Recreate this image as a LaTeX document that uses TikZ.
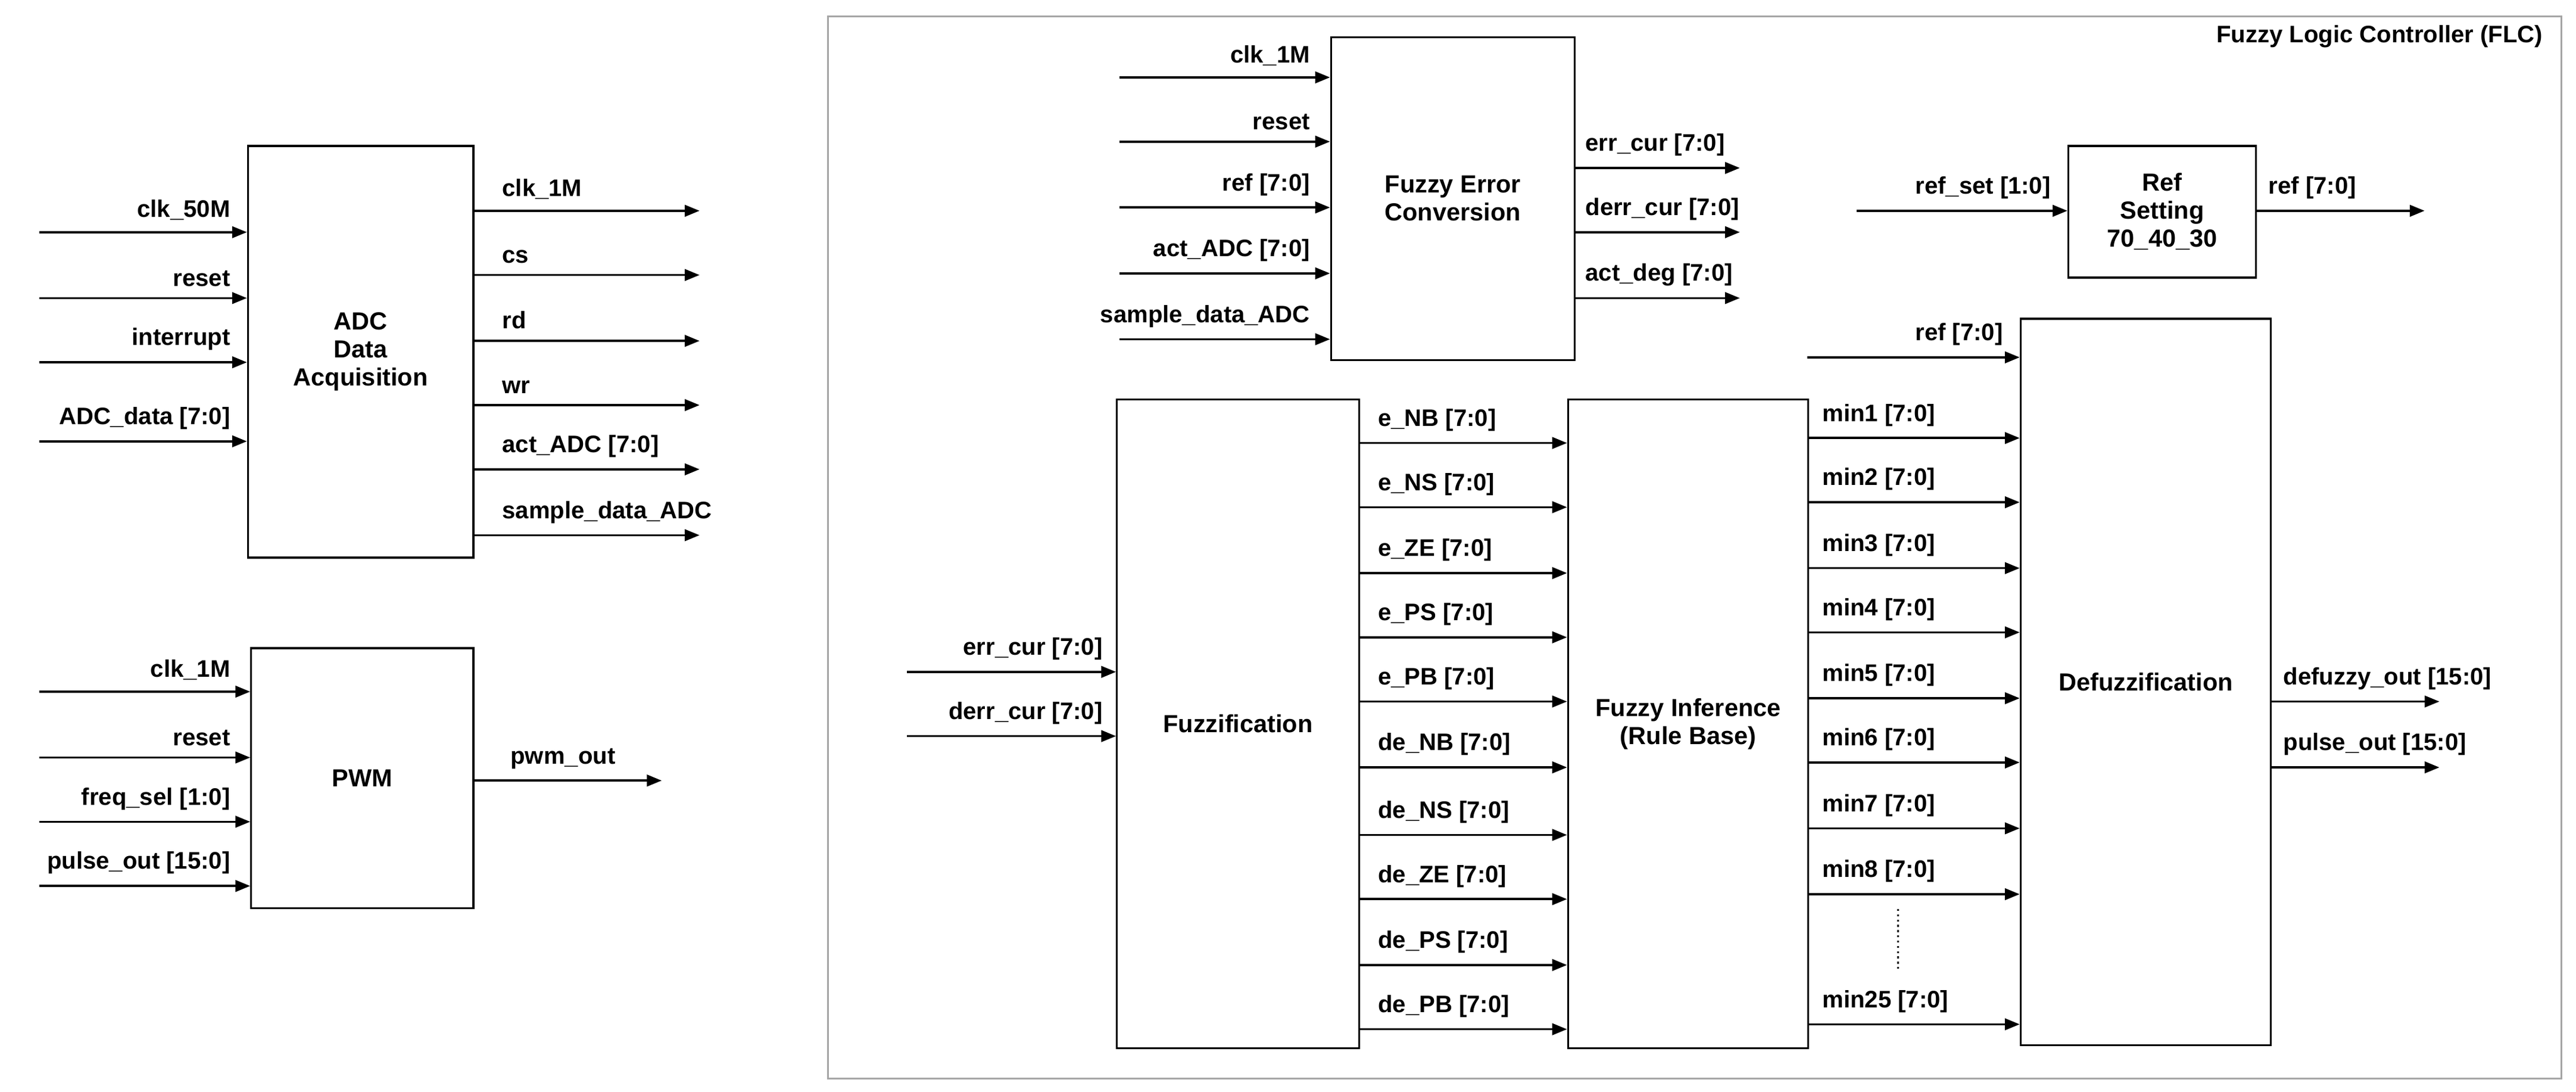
\documentclass[tikz,border=0pt]{standalone}
\usepackage{fontspec}
\setmainfont{Liberation Sans}
\usetikzlibrary{arrows.meta}
\begin{document}
\begin{tikzpicture}[x=1pt,y=-1pt,
 box/.style={draw,line width=1.2pt,font=\fontsize{15}{17}\selectfont\bfseries,align=center},
 sig/.style={line width=1.3pt,-{Triangle[length=9pt,width=7pt]}},
 lab/.style={font=\fontsize{14.5}{16}\selectfont\bfseries,inner sep=0pt}]
\useasboundingbox (0,0) rectangle (1565,663);
\draw[gray!70,line width=1.2pt] (503,10) rectangle (1556,655);
\node[lab,anchor=north east] (flc) at (1545,15) {Fuzzy Logic Controller (FLC)};
% ADC
\node[box,minimum width=137pt,minimum height=250pt,anchor=north west] (adc) at (150,88) {ADC\\Data\\Acquisition};
\foreach \n/\y/\t in {a1/141/clk\_50M,a2/181/reset,a3/220/interrupt,a4/268/ADC\_data [7:0]}{
 \coordinate (\n s) at (24,\y); \coordinate (\n e) at (150,\y);
 \draw[sig] (\n s) -- (\n e);
 \node[lab,anchor=south east] at (140,\y-7) {\t};}
\foreach \n/\y/\t in {b1/128/clk\_1M,b2/167/cs,b3/207/rd,b4/246/wr,b5/285/act\_ADC [7:0],b6/325/sample\_data\_ADC}{
 \coordinate (\n s) at (287,\y); \coordinate (\n e) at (425,\y);
 \draw[sig] (\n s) -- (\n e);
 \node[lab,anchor=south west] at (305,\y-7) {\t};}
% PWM
\node[box,minimum width=135pt,minimum height=158pt,anchor=north west] (pwm) at (152,393) {PWM};
\foreach \n/\y/\t in {p1/420/clk\_1M,p2/460/reset,p3/499/freq\_sel [1:0],p4/538/pulse\_out [15:0]}{
 \coordinate (\n s) at (24,\y); \coordinate (\n e) at (152,\y);
 \draw[sig] (\n s) -- (\n e);
 \node[lab,anchor=south east] at (140,\y-7) {\t};}
\coordinate (pwo) at (402,474);
\draw[sig] (287,474) -- (pwo);
\node[lab,anchor=south west] at (310,467) {pwm\_out};
% Fuzzy error conversion
\node[box,minimum width=148pt,minimum height=196pt,anchor=north west] (fec) at (808,22) {Fuzzy Error\\Conversion};
\foreach \n/\y/\t in {c1/47/clk\_1M,c2/86/reset,c3/126/ref [7:0],c4/166/act\_ADC [7:0],c5/206/sample\_data\_ADC}{
 \coordinate (\n s) at (680,\y); \coordinate (\n e) at (808,\y);
 \draw[sig] (\n s) -- (\n e);
 \node[lab,anchor=south east] at (796,\y-7) {\t};}
\foreach \n/\y/\t in {d1/102/err\_cur [7:0],d2/141/derr\_cur [7:0],d3/181/act\_deg [7:0]}{
 \coordinate (\n s) at (956,\y); \coordinate (\n e) at (1057,\y);
 \draw[sig] (\n s) -- (\n e);
 \node[lab,anchor=south west] at (963,\y-7) {\t};}
% Ref setting
\node[box,minimum width=114pt,minimum height=80pt,anchor=north west] (rs) at (1256,88) {Ref\\Setting\\70\_40\_30};
\coordinate (rss) at (1128,128); \coordinate (rso) at (1473,128);
\draw[sig] (rss) -- (rs.west|-rss);
\node[lab,anchor=south east] at (1246,121) {ref\_set [1:0]};
\draw[sig] (rs.east|-rso) -- (rso);
\node[lab,anchor=south west] at (1378,121) {ref [7:0]};
% Fuzzification
\node[box,minimum width=147pt,minimum height=394pt,anchor=north west] (fz) at (678,242) {Fuzzification};
\node[box,minimum width=146pt,minimum height=394pt,anchor=north west] (fi) at (952,242) {Fuzzy Inference\\(Rule Base)};
\node[box,minimum width=152pt,minimum height=441pt,anchor=north west] (df) at (1227,193) {Defuzzification};
\foreach \n/\y/\t in {f1/408/err\_cur [7:0],f2/447/derr\_cur [7:0]}{
 \coordinate (\n s) at (551,\y);
 \draw[sig] (\n s) -- (fz.west|-\n s);
 \node[lab,anchor=south east] at (670,\y-7) {\t};}
\foreach \y/\t in {269/e\_NB,308/e\_NS,348/e\_ZE,387/e\_PS,426/e\_PB,466/de\_NB,507/de\_NS,546/de\_ZE,586/de\_PS,625/de\_PB}{
 \draw[sig] (fz.east|-0,\y) -- (fi.west|-0,\y);
 \node[lab,anchor=south west] at (837,\y-7) {\t{} [7:0]};}
\coordinate (dref) at (1098,217);
\draw[sig] (dref) -- (df.west|-dref);
\node[lab,anchor=south east] at (1217,210) {ref [7:0]};
\foreach \y/\t in {266/min1,305/min2,345/min3,384/min4,424/min5,463/min6,503/min7,543/min8,622/min25}{
 \draw[sig] (fi.east|-0,\y) -- (df.west|-0,\y);
 \node[lab,anchor=south west] at (1107,\y-7) {\t{} [7:0]};}
\coordinate (dt) at (1153,552); \coordinate (db) at (1153,590);
\draw[line width=1.2pt,dotted] (dt) -- (db);
\foreach \n/\y/\t in {o1/426/defuzzy\_out [15:0],o2/466/pulse\_out [15:0]}{
 \coordinate (\n e) at (1482,\y);
 \draw[sig] (df.east|-\n e) -- (\n e);
 \node[lab,anchor=south west] at (1387,\y-7) {\t};}
\end{tikzpicture}
\end{document}
